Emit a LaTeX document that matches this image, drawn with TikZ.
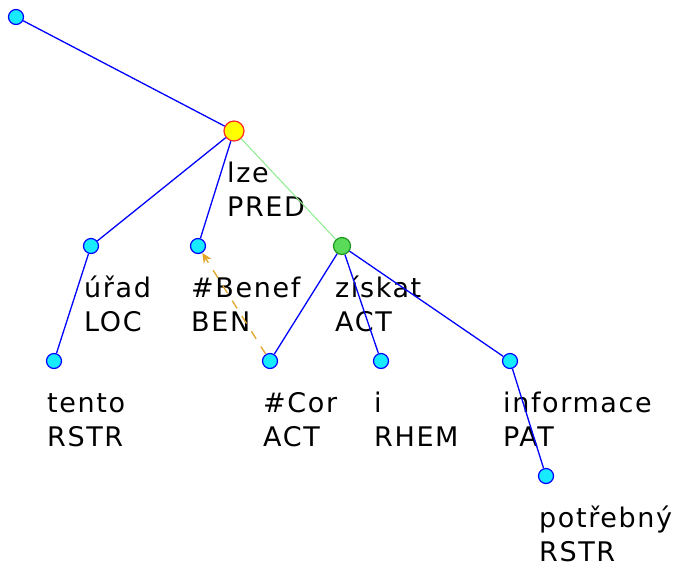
\documentclass[tikz,border=0pt]{standalone}
\usepackage{fontspec}
\newfontfamily\labfont{DejaVu Sans}[LetterSpace=6]
\usetikzlibrary{arrows.meta}
\definecolor{nodecyan}{RGB}{25,235,255}
\definecolor{predfill}{RGB}{255,255,0}
\definecolor{predline}{RGB}{255,40,40}
\definecolor{actfill}{RGB}{90,220,90}
\definecolor{actline}{RGB}{30,150,30}
\definecolor{lightedge}{RGB}{140,235,140}
\definecolor{coref}{RGB}{225,165,40}

\begin{document}
\begin{tikzpicture}[x=1pt,y=-1pt,
    tnode/.style={circle, draw=blue, fill=nodecyan, line width=1.2pt, minimum size=15pt, inner sep=0pt},
    lab/.style={anchor=base west, align=left, inner sep=0pt, font=\labfont\fontsize{27}{34}\selectfont},
    edge/.style={draw=blue, line width=1.3pt}]

    \useasboundingbox (0,0) rectangle (683,566);

    \node[tnode] (root) at (16,17) {};
    \node[tnode, fill=predfill, draw=predline, minimum size=20pt] (lze) at (234,131) {};
    \node[tnode] (urad) at (91,246) {};
    \node[tnode] (benef) at (198,246) {};
    \node[tnode, fill=actfill, draw=actline, minimum size=17pt] (ziskat) at (342,246) {};
    \node[tnode] (tento) at (54,361) {};
    \node[tnode] (cor) at (270,361) {};
    \node[tnode] (i) at (381,361) {};
    \node[tnode] (informace) at (510,361) {};
    \node[tnode] (potrebny) at (546,476) {};

    % labels
    \node[lab] (lzeL) at ([shift={(-7,85)}]lze.center) {lze\\PRED};
    \node[lab] (uradL) at ([shift={(-7,85)}]urad.center) {úřad\\LOC};
    \node[lab] (benefL) at ([shift={(-7,85)}]benef.center) {\#Benef\\BEN};
    \node[lab] (ziskatL) at ([shift={(-7,85)}]ziskat.center) {získat\\ACT};
    \node[lab] (tentoL) at ([shift={(-7,85)}]tento.center) {tento\\RSTR};
    \node[lab] (corL) at ([shift={(-7,85)}]cor.center) {\#Cor\\ACT};
    \node[lab] (iL) at ([shift={(-7,85)}]i.center) {i\\RHEM};
    \node[lab] (informaceL) at ([shift={(-7,85)}]informace.center) {informace\\PAT};
    \node[lab] (potrebnyL) at ([shift={(-7,85)}]potrebny.center) {potřebný\\RSTR};

    \draw[edge] (root) -- (lze);
    \draw[edge] (lze) -- (urad);
    \draw[edge] (lze) -- (benef);
    \draw[draw=lightedge, line width=1pt] (lze) -- (ziskat);
    \draw[edge] (urad) -- (tento);
    \draw[edge] (ziskat) -- (cor);
    \draw[edge] (ziskat) -- (i);
    \draw[edge] (ziskat) -- (informace);
    \draw[edge] (informace) -- (potrebny);
    \draw[coref, line width=1.3pt, dash pattern=on 9pt off 9pt, -{Stealth[length=10pt, width=9pt]}] (cor) -- (benef);
    %
\end{tikzpicture}
\end{document}
